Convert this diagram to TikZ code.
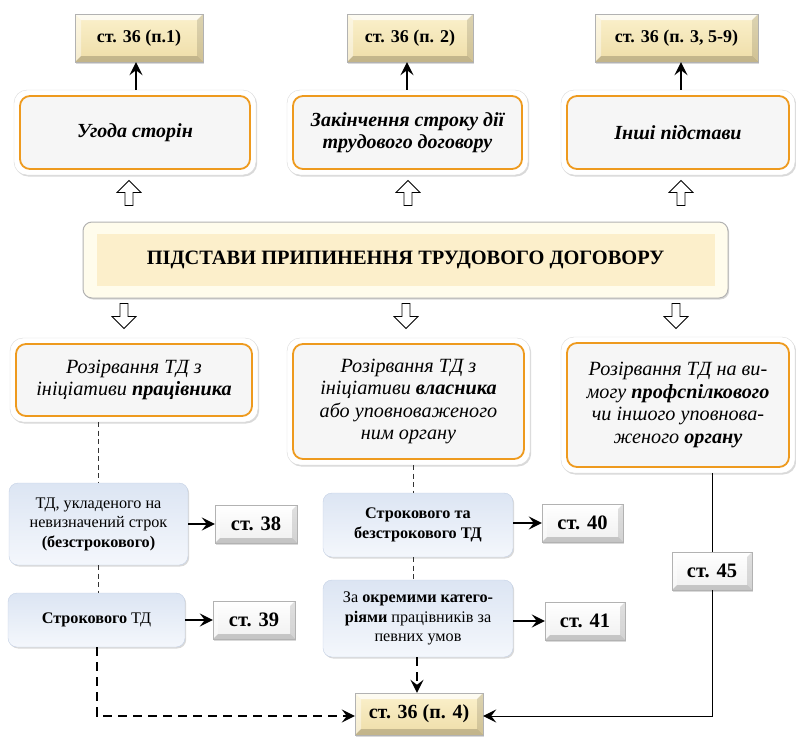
\documentclass[tikz,border=0pt]{standalone}
\usepackage{fontspec}
\setmainfont{Liberation Serif}
\usetikzlibrary{shadows,shapes.arrows,arrows.meta}
\definecolor{orng}{HTML}{EE9A1E}
\definecolor{beigeT}{HTML}{FBF1CC}
\definecolor{beigeB}{HTML}{EEDDA8}
\definecolor{blueT}{HTML}{DCE5F3}
\definecolor{blueB}{HTML}{F4F7FC}
\definecolor{bluebd}{HTML}{C4D1E5}
\definecolor{creamO}{HTML}{FFFCEC}
\definecolor{creamI}{HTML}{FCEFCB}
\begin{document}
\begin{tikzpicture}[x=1pt,y=-1pt,
  shad/.style={drop shadow={opacity=0.3,shadow xshift=1.2pt,shadow yshift=-1.5pt}},
  bevel/.style={path picture={
     \fill[white,opacity=0.75] (path picture bounding box.north west) -- (path picture bounding box.north east)
        -- ([shift={(-#1,-#1)}]path picture bounding box.north east) -- ([shift={(#1,-#1)}]path picture bounding box.north west) -- cycle;
     \fill[white,opacity=0.45] (path picture bounding box.north west) -- (path picture bounding box.south west)
        -- ([shift={(#1,#1)}]path picture bounding box.south west) -- ([shift={(#1,-#1)}]path picture bounding box.north west) -- cycle;
     \fill[black,opacity=0.18] (path picture bounding box.south west) -- (path picture bounding box.south east)
        -- ([shift={(-#1,#1)}]path picture bounding box.south east) -- ([shift={(#1,#1)}]path picture bounding box.south west) -- cycle;
     \fill[black,opacity=0.12] (path picture bounding box.north east) -- (path picture bounding box.south east)
        -- ([shift={(-#1,#1)}]path picture bounding box.south east) -- ([shift={(-#1,-#1)}]path picture bounding box.north east) -- cycle;
  }},
  refbeige/.style={draw=gray!60, top color=beigeT, bottom color=beigeB, bevel=6pt, shad, inner sep=0pt,
     minimum height=48pt, font=\fontsize{18}{21}\selectfont\bfseries},
  refgray/.style={draw=gray!60, top color=white, bottom color=gray!12, bevel=5pt, shad, inner sep=0pt,
     minimum height=38pt, font=\fontsize{20.5}{23}\selectfont\bfseries},
  frame/.style={draw=gray!30, fill=white, rounded corners=13pt, shad, inner sep=0pt},
  orangebox/.style={draw=orng, line width=1.8pt, fill=gray!7, rounded corners=10pt,
     inner sep=0pt, align=center},
  bluebox/.style={draw=bluebd, top color=blueT, bottom color=blueB, rounded corners=9pt,
     shad, inner sep=0pt, align=center, font=\fontsize{16.2}{19.5}\selectfont},
  hollow/.style={single arrow, draw=black, fill=white, line width=0.8pt, inner sep=3.6pt,
     minimum height=25pt, single arrow head extend=8pt, single arrow tip angle=90},
  tip/.style={-{Stealth[length=13pt,width=13pt,inset=5pt]}},
  arr/.style={tip, line width=1.3pt},
  dashline/.style={dash pattern=on 5pt off 3.5pt, line width=0.9pt, black!80},
  longdash/.style={dash pattern=on 9pt off 6pt, line width=1.3pt, black},
  itxt/.style={font=\fontsize{20.2}{22.5}\selectfont\itshape},
  bitxt/.style={font=\fontsize{20}{22.5}\selectfont\bfseries\itshape}
]
\useasboundingbox (0,0) rectangle (796,742);

% top reference boxes
\node[refbeige, minimum width=128pt] (r1) at (139,38) {ст. 36 (п.1)};
\node[refbeige, minimum width=126pt] (r2) at (410,38) {ст. 36 (п. 2)};
\node[refbeige, minimum width=163pt] (r3) at (676.5,38) {ст. 36 (п. 3, 5-9)};

% second row
\node[frame, minimum width=242pt, minimum height=85pt] (fa) at (135,132.5) {};
\node[orangebox, bitxt, minimum width=230pt, minimum height=73pt] (a) at (135,132.5) {Угода сторін};
\node[frame, minimum width=241pt, minimum height=85pt] (fb) at (407.5,132.5) {};
\node[orangebox, bitxt, minimum width=229pt, minimum height=73pt] (b) at (407.5,132.5) {Закінчення строку дії\\трудового договору};
\node[frame, minimum width=234pt, minimum height=85pt] (fc) at (678,132.5) {};
\node[orangebox, bitxt, minimum width=222pt, minimum height=73pt] (c) at (678,132.5) {Інші підстави};

\draw[arr] (fa.north -| 136,0) -- (r1.south -| 136,0);
\draw[arr] (fb.north -| 407,0) -- (r2.south -| 407,0);
\draw[arr] (fc.north -| 681,0) -- (r3.south -| 681,0);

% hollow up arrows
\node[hollow, shape border rotate=90] (u1) at (129,195) {};
\node[hollow, shape border rotate=90] (u2) at (408,195) {};
\node[hollow, shape border rotate=90] (u3) at (681,195) {};

% main box
\node[draw=gray!60, fill=creamO, rounded corners=9pt, line width=1pt, minimum width=645pt,
  minimum height=76pt, inner sep=0pt, shad] (main) at (405.5,260) {};
\node[fill=creamI, minimum width=618pt, minimum height=52pt, inner sep=0pt,
  font=\fontsize{20.4}{23}\selectfont\bfseries] (title) at (405.5,260) {ПІДСТАВИ ПРИПИНЕННЯ ТРУДОВОГО ДОГОВОРУ};

% hollow down arrows
\node[hollow, shape border rotate=270] (d1) at (124,314) {};
\node[hollow, shape border rotate=270] (d2) at (406,314) {};
\node[hollow, shape border rotate=270] (d3) at (676,314) {};

% third row
\node[frame, minimum width=248pt, minimum height=84pt] (fd) at (134,380) {};
\node[orangebox, itxt, minimum width=236pt, minimum height=72pt] (dd) at (134,380)
  {Розірвання ТД з\\ініціативи \textbf{працівника}};
\node[frame, minimum width=243pt, minimum height=127pt] (fe) at (408.5,401.5) {};
\node[orangebox, itxt, minimum width=231pt, minimum height=115pt] (ee) at (408.5,401.5)
  {Розірвання ТД з\\ініціативи \textbf{власника}\\або уповноваженого\\ним органу};
\node[frame, minimum width=234pt, minimum height=136pt] (ff) at (678,405) {};
\node[orangebox, itxt, minimum width=222pt, minimum height=124pt] (f) at (678,405)
  {Розірвання ТД на ви-\\могу \textbf{профспілкового}\\чи іншого уповнова-\\женого \textbf{органу}};

% fourth row, left
\node[bluebox, minimum width=179pt, minimum height=82pt] (g) at (98.5,524)
  {ТД, укладеного на\\невизначений строк\\\textbf{(безстрокового)}};
\node[bluebox, minimum width=177pt, minimum height=54pt] (h) at (96.5,620)
  {\textbf{Строкового} ТД};
\node[refgray, minimum width=82pt] (s38) at (256,524) {ст. 38};
\node[refgray, minimum width=82pt] (s39) at (254,620) {ст. 39};

% middle column
\node[bluebox, minimum width=190pt, minimum height=64pt] (i) at (418,525)
  {\textbf{Строкового та}\\\textbf{безстрокового ТД}};
\node[bluebox, minimum width=190pt, minimum height=77pt] (j) at (418,618.5)
  {За \textbf{окремими катего-}\\\textbf{ріями} працівників за\\певних умов};
\node[refgray, minimum width=81pt] (s40) at (582.5,523) {ст. 40};
\node[refgray, minimum width=80pt] (s41) at (585,621) {ст. 41};
\node[refgray, minimum width=80pt] (s45) at (712,571) {ст. 45};
\node[refbeige, minimum width=128pt, minimum height=42pt, font=\fontsize{20}{23}\selectfont\bfseries] (p4) at (419,714) {ст. 36 (п. 4)};

% connectors
\draw[arr] (g.east) -- (s38.west);
\draw[arr] (h.east) -- (s39.west);
\draw[arr] (i.east |- s40.west) -- (s40.west);
\draw[arr] (j.east |- s41.west) -- (s41.west);

\draw[dashline] (fd.south -| 98,0) -- (g.north -| 98,0);
\draw[dashline] (g.south -| 98,0) -- (h.north -| 98,0);
\draw[longdash, tip] (h.south -| 97,0) -- (97,716) -- (p4.west |- 0,716);

\draw[dashline] (fe.south -| 413,0) -- (i.north -| 413,0);
\draw[dashline] (i.south -| 413,0) -- (j.north -| 413,0);
\draw[longdash, tip] (j.south -| 417,0) -- (p4.north -| 417,0);

\draw[line width=1pt] (ff.south -| 712,0) -- (s45.north);
\draw[arr, line width=1pt] (s45.south) -- (712,716) -- (p4.east |- 0,716);
\end{tikzpicture}
\end{document}
